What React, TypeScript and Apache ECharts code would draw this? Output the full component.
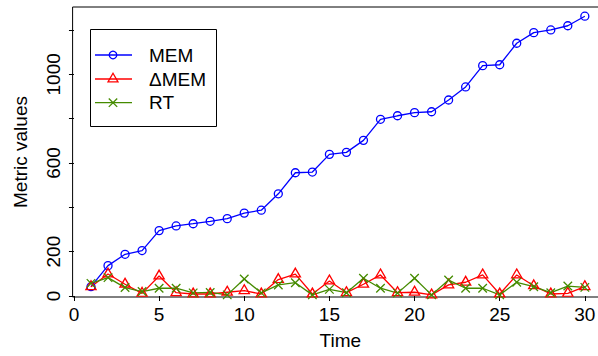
import { useEffect, useRef } from 'react';
import * as echarts from 'echarts';

const time = [1, 2, 3, 4, 5, 6, 7, 8, 9, 10, 11, 12, 13, 14, 15, 16, 17, 18, 19, 20, 21, 22, 23, 24, 25, 26, 27, 28, 29, 30];
const mem = [42, 137, 188, 205, 295, 316, 326, 337, 349, 374, 387, 461, 556, 559, 639, 648, 702, 797, 813, 827, 831, 884, 943, 1039, 1043, 1140, 1188, 1200, 1219, 1262];
const dMem = [42, 99, 53, 12, 90, 15, 9, 9, 17, 24, 9, 74, 99, 9, 68, 15, 53, 95, 15, 17, 5, 50, 62, 95, 9, 95, 46, 9, 12, 42];
const rt = [57, 83, 38, 20, 35, 35, 14, 16, 5, 77, 14, 50, 60, 5, 30, 15, 80, 35, 13, 80, 5, 72, 35, 35, 5, 62, 42, 15, 45, 39];

const xTicks = [0, 5, 10, 15, 20, 25, 30];
const yTicks = [0, 200, 400, 600, 800, 1000, 1200];
const yLabels = [0, 200, 600, 1000];

const names = ['MEM', '\u0394MEM', 'RT'];
const colors = ['#0000ff', '#ff0000', '#458b00'];

const FONT = '"Liberation Sans", Arial, Helvetica, sans-serif';

const CIRCLE = 'path://M0,10A10,10,0,1,1,20,10A10,10,0,1,1,0,10Z';
const TRIANGLE = 'path://M13.47,0L26.94,23.33L0,23.33Z';
const CROSS = 'path://M0,0L10,10M10,0L0,10';

export default function App() {
  const ref = useRef<HTMLDivElement>(null);
  useEffect(() => {
    if (!ref.current) return;
    const chart = echarts.init(ref.current, undefined, { renderer: 'svg' });
    const pair = (arr: number[]) => time.map((t, i) => [t, arr[i]]);
    const mkSeries = (name: string, arr: number[], color: string, symbol: string, size: number | number[], offset?: number[]) => ({
      name,
      type: 'line',
      data: pair(arr),
      symbol,
      symbolSize: size,
      symbolOffset: offset || [0, 0],
      showSymbol: true,
      clip: false,
      lineStyle: { color, width: 1.3 },
      itemStyle: { color: 'none', borderColor: color, borderWidth: 1.3 },
      emphasis: { disabled: true },
    });

    // legend geometry
    const lx0 = 95, lx1 = 132, mx = 113, tx = 149;
    const ly = [55, 79, 102.7];
    const stroke = (c: string) => ({ stroke: c, lineWidth: 1.3, fill: 'none' });
    const legendEls: any[] = [
      { type: 'rect', shape: { x: 90.5, y: 29.5, width: 126, height: 97 }, style: { fill: '#fff', stroke: '#000', lineWidth: 1 } },
    ];
    ly.forEach((y, i) => {
      legendEls.push({ type: 'line', shape: { x1: lx0, y1: y, x2: lx1, y2: y }, style: stroke(colors[i]) });
      legendEls.push({ type: 'text', x: tx, y, style: { text: names[i], font: `19px ${FONT}`, fill: '#000', verticalAlign: 'middle', align: 'left' } });
    });
    legendEls.push({ type: 'circle', shape: { cx: mx, cy: ly[0], r: 3.8 }, style: stroke(colors[0]) });
    legendEls.push({ type: 'polygon', shape: { points: [[mx, ly[1] - 5.8], [mx + 5, ly[1] + 2.9], [mx - 5, ly[1] + 2.9]] }, style: stroke(colors[1]) });
    legendEls.push({ type: 'line', shape: { x1: mx - 4.2, y1: ly[2] - 4.2, x2: mx + 4.2, y2: ly[2] + 4.2 }, style: stroke(colors[2]) });
    legendEls.push({ type: 'line', shape: { x1: mx - 4.2, y1: ly[2] + 4.2, x2: mx + 4.2, y2: ly[2] - 4.2 }, style: stroke(colors[2]) });

    chart.setOption({
      animation: false,
      backgroundColor: '#fff',
      textStyle: { fontFamily: FONT },
      grid: {
        left: 72.6, top: 7, right: -10, bottom: 59,
        show: true, borderColor: '#000', borderWidth: 1, backgroundColor: 'transparent',
        outerBoundsMode: 'none', containLabel: false,
      },
      xAxis: {
        type: 'value', min: -0.08, max: 31.36,
        name: 'Time', nameLocation: 'middle', nameGap: 34,
        nameTextStyle: { fontSize: 19, color: '#000', fontFamily: FONT },
        axisLine: { show: false },
        axisTick: { show: true, inside: false, length: 5, lineStyle: { color: '#000', width: 1 }, customValues: xTicks },
        axisLabel: { fontSize: 19, color: '#000', margin: 8, fontFamily: FONT, customValues: xTicks, formatter: (v: number) => String(v) },
        splitLine: { show: false },
      },
      yAxis: {
        type: 'value', min: -4.5, max: 1303.6,
        name: 'Metric values', nameLocation: 'middle', nameGap: 43, nameRotate: 90,
        nameTextStyle: { fontSize: 19, color: '#000', fontFamily: FONT },
        axisLine: { show: false },
        axisTick: { show: true, inside: false, length: 5, lineStyle: { color: '#000', width: 1 }, customValues: yTicks },
        axisLabel: { fontSize: 19, color: '#000', margin: 10, rotate: 90, fontFamily: FONT, customValues: yLabels, formatter: (v: number) => String(v) },
        splitLine: { show: false },
      },
      series: [
        mkSeries(names[0], mem, colors[0], CIRCLE, 8),
        mkSeries(names[1], dMem, colors[1], TRIANGLE, [10.2, 8.8], [0, -1.5]),
        mkSeries(names[2], rt, colors[2], CROSS, 8.5),
      ],
      graphic: legendEls,
    });
    return () => chart.dispose();
  }, []);
  return <div ref={ref} style={{ position: 'absolute', left: 0, top: 0, width: 598, height: 356 }} />;
}
